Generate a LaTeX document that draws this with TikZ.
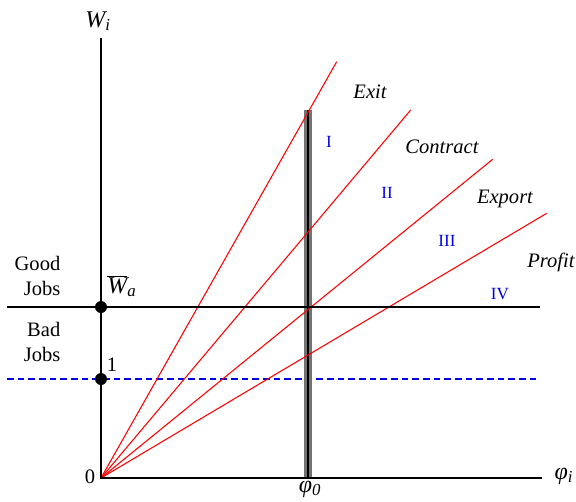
\documentclass[tikz,border=0pt]{standalone}
\usepackage{fontspec}
\setmainfont{Liberation Serif}
\usetikzlibrary{positioning}
\definecolor{linered}{RGB}{255,0,0}
\definecolor{numblue}{RGB}{0,0,230}

\begin{document}
\begin{tikzpicture}[x=0.75pt, y=-0.75pt,
    axis/.style={line width=1.5pt, black},
    ray/.style={line width=0.8pt, linered},
    lbl/.style={font=\fontsize{15.4}{18.5}\selectfont},
    mlbl/.style={font=\fontsize{18}{21}\selectfont\itshape},
    rlbl/.style={font=\fontsize{15.4}{18.5}\selectfont\itshape},
    roman/.style={font=\fontsize{12.8}{15}\selectfont, text=numblue},
    dot/.style={circle, fill=black, inner sep=0pt, minimum size=9pt}]
  \useasboundingbox (0,0) rectangle (576,501);
  % axes
  \coordinate (O) at (101,478);
  \coordinate (ytop) at (101,38);
  \coordinate (xend) at (542,478);
  % wage lines
  \coordinate (wl) at (7,307);
  \coordinate (wr) at (540,307);
  \coordinate (ol) at (7,379);
  \coordinate (or) at (540,379);
  \draw[dashed, dash pattern=on 5pt off 3pt, line width=0.8pt, numblue] (ol) -- (or);
  % productivity cutoff
  \coordinate (ptop) at (308,110);
  \coordinate (pbot) at (308,478);
  \draw[line width=5.5pt, black!55] (ptop) -- (pbot);
  \draw[line width=1.5pt, black] (ptop) -- (pbot);
  % rays
  \foreach \name/\x/\y/\txt/\lx/\ly in {
    exit/336.7/61.7/Exit/370/92, contract/410.7/110/Contract/442/147,
    export/492.7/159.3/Export/505/199, profit/546.7/213.3/Profit/551/262}{
    \coordinate (\name) at (\x,\y);
    \draw[ray] (O) -- (\name);
    \node[rlbl] (\name-lbl) at (\lx,\ly) {\txt};
  }
  \draw[axis] (wl) -- (wr);
  \draw[axis] (ytop) -- (O) -- (xend);
  % regions
  \foreach \r/\x/\y in {I/329/142, II/387/193, III/447/241, IV/500/294}
    \node[roman] (reg-\r) at (\x,\y) {\r};
  \node[dot] (wa) at (101,307) {};
  \node[dot] (one) at (101,379) {};
  \node[lbl, align=right, anchor=east] (good) at (65,276) {Good\\Jobs};
  \node[lbl, align=right, anchor=east] (bad) at (65,342) {Bad\\Jobs};
  \node[mlbl] (wa-lbl) at (122,286) {$\overline{\mbox{\itshape W}}$\textsubscript{a}};
  \node[lbl] (one-lbl) at (112,365) {1};
  \node[lbl] (zero) at (90,477) {0};
  \node[mlbl] (wi) at (98,21) {W\textsubscript{i}};
  \node[mlbl] (phi0) at (310,489) {φ\textsubscript{0}};
  \node[mlbl] (phii) at (564,476) {φ\textsubscript{i}};
\end{tikzpicture}
\end{document}
